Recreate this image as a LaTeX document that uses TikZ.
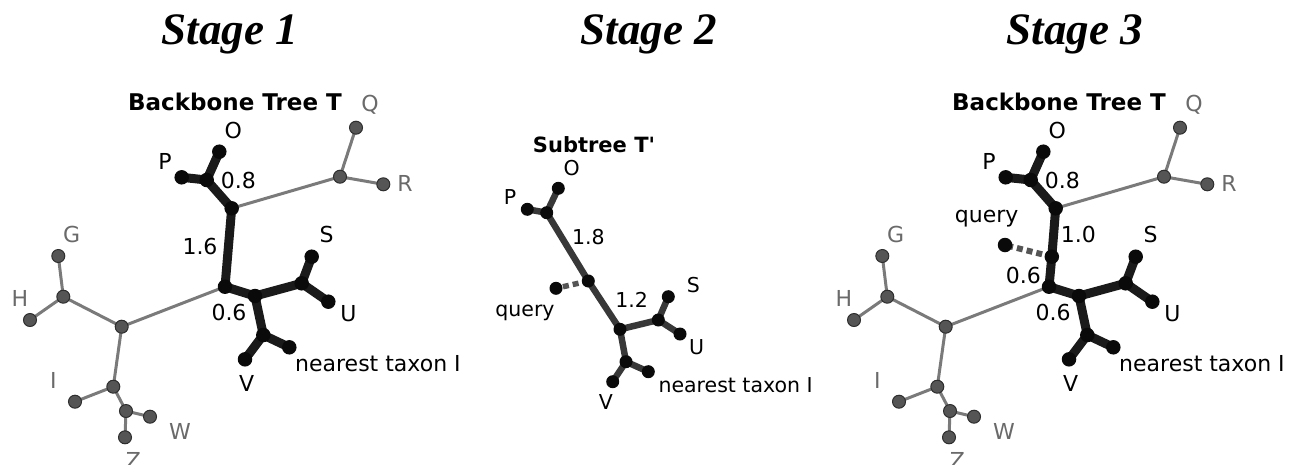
\documentclass[tikz,border=0pt]{standalone}
\usepackage{fontspec}
\setmainfont{Liberation Serif}
\newfontfamily\dejavu{DejaVu Sans}
\usetikzlibrary{backgrounds}

\definecolor{nodeblack}{HTML}{0A0A0A}
\definecolor{edgeblack}{HTML}{1A1A1A}
\definecolor{edgedark}{HTML}{383838}
\definecolor{edgegray}{HTML}{7A7A7A}
\definecolor{nodegray}{HTML}{555555}
\definecolor{nodegrayrim}{HTML}{2E2E2E}
\definecolor{labgray}{HTML}{6A6A6A}
\definecolor{querygray}{HTML}{555555}

\tikzset{
  tip/.style={circle, fill=nodeblack, inner sep=0pt, minimum size=14.5pt},
  subtip/.style={circle, fill=nodeblack, inner sep=0pt, minimum size=13pt},
  graytip/.style={circle, fill=nodegray, draw=nodegrayrim, line width=1pt, inner sep=0pt, minimum size=13pt},
  heavy/.style={draw=edgeblack, line width=9pt, line cap=round},
  medium/.style={draw=edgedark, line width=6.5pt, line cap=round},
  light/.style={draw=edgegray, line width=3pt},
  querylink/.style={draw=querygray, line width=6pt, dash pattern=on 6pt off 4pt},
  lab/.style={font=\dejavu\fontsize{22}{26}\selectfont, text=black, inner sep=0pt},
  glab/.style={lab, text=labgray},
  slab/.style={font=\dejavu\fontsize{20.5}{24}\selectfont, text=black, inner sep=0pt},
  treetitle/.style={font=\dejavu\bfseries\fontsize{23}{27}\selectfont, text=black, inner sep=0pt},
  stagetitle/.style={font=\bfseries\itshape\fontsize{45}{50}\selectfont, text=black, inner sep=0pt},
}

% backbone tree without the branch between A and B
\newcommand{\backbonetree}{%
  \node[treetitle] (title) at (235,102) {Backbone Tree T};
  % highlighted part
  \node[tip] (A)   at (231.7,208.3) {};
  \node[tip] (B)   at (225,286.7) {};
  \node[tip] (C)   at (255,296) {};
  \node[tip] (SUj) at (301.7,283.3) {};
  \node[tip] (S)   at (311.7,256.7) {};
  \node[tip] (U)   at (328.3,301.7) {};
  \node[tip] (Vj)  at (263.3,335) {};
  \node[tip] (V)   at (245,359.3) {};
  \node[tip] (N)   at (289.3,347.3) {};
  \node[tip] (POj) at (206.7,180) {};
  \node[tip] (O)   at (219.3,151.7) {};
  \node[tip] (P)   at (181.7,177.3) {};
  % remaining part
  \node[graytip] (Rj)  at (340,176.7) {};
  \node[graytip] (Q)   at (356,127.7) {};
  \node[graytip] (R)   at (383.3,184.3) {};
  \node[graytip] (D)   at (121.7,326.7) {};
  \node[graytip] (GHj) at (63.3,296.7) {};
  \node[graytip] (G)   at (58.3,256) {};
  \node[graytip] (H)   at (30,320) {};
  \node[graytip] (E)   at (113.3,386.7) {};
  \node[graytip] (I)   at (75,401.7) {};
  \node[graytip] (F)   at (126,411) {};
  \node[graytip] (W)   at (150,416.7) {};
  \node[graytip] (Z)   at (125,437.3) {};
  \begin{scope}[on background layer]
    \draw[light] (A.center) -- (Rj.center) -- (Q.center);
    \draw[light] (Rj.center) -- (R.center);
    \draw[light] (B.center) -- (D.center) -- (GHj.center) -- (G.center);
    \draw[light] (GHj.center) -- (H.center);
    \draw[light] (D.center) -- (E.center) -- (I.center);
    \draw[light] (E.center) -- (F.center) -- (W.center);
    \draw[light] (F.center) -- (Z.center);
    \draw[heavy] (P.center) -- (POj.center) -- (O.center);
    \draw[heavy] (POj.center) -- (A.center);
    \draw[heavy] (B.center) -- (C.center) -- (SUj.center) -- (S.center);
    \draw[heavy] (SUj.center) -- (U.center);
    \draw[heavy] (C.center) -- (Vj.center) -- (V.center);
    \draw[heavy] (Vj.center) -- (N.center);
  \end{scope}
  % leaf names and branch lengths
  \node[glab] (Qlab) at (370,105) {Q};
  \node[glab] (Rlab) at (405,183) {R};
  \node[lab] (Olab) at (233.3,130) {O};
  \node[lab] (Plab) at (165,161.7) {P};
  \node[lab] (l08) at (238.3,180) {0.8};
  \node[lab] (Slab) at (326.7,234) {S};
  \node[lab] (Ulab) at (348.3,313.3) {U};
  \node[lab] (l06) at (229,312) {0.6};
  \node[lab] (Vlab) at (246.7,383.3) {V};
  \node[lab, anchor=west] (Nlab) at (295,363.3) {nearest taxon I};
  \node[glab] (Glab) at (71.7,234) {G};
  \node[glab] (Hlab) at (20,298.3) {H};
  \node[glab] (Ilab) at (53.3,380) {I};
  \node[glab] (Wlab) at (180,431.7) {W};
  \node[glab] (Zlab) at (133.3,460) {Z};
}

\begin{document}
\begin{tikzpicture}[x=1pt,y=-1pt]
  \useasboundingbox (0,0) rectangle (1295,464);

  % stage headings
  \node[stagetitle] (st1) at (230,34) {Stage 1};
  \node[stagetitle] (st2) at (649,34) {Stage 2};
  \node[stagetitle] (st3) at (1075,34) {Stage 3};

  % Stage 1: backbone tree
  \begin{scope}[name prefix=a-]
    \backbonetree
    \begin{scope}[on background layer]
      \draw[heavy] (A.center) -- (B.center);
    \end{scope}
    \node[lab] (l16) at (200,246.7) {1.6};
  \end{scope}

  % Stage 2: subtree
  \begin{scope}[name prefix=b-]
    \node[treetitle, font=\dejavu\bfseries\fontsize{21}{25}\selectfont] (title) at (594,145) {Subtree T'};
    \node[subtip] (POj) at (546.7,212.7) {};
    \node[subtip] (O)   at (558.3,188.3) {};
    \node[subtip] (P)   at (527.3,209.3) {};
    \node[subtip] (M)   at (588.3,281) {};
    \node[subtip] (q)   at (556,288.3) {};
    \node[subtip] (C)   at (620,329.3) {};
    \node[subtip] (SUj) at (658.3,320) {};
    \node[subtip] (S)   at (668.3,296.7) {};
    \node[subtip] (U)   at (680,334) {};
    \node[subtip] (Vj)  at (626,361.7) {};
    \node[subtip] (V)   at (612.7,381.7) {};
    \node[subtip] (N)   at (648.3,371.7) {};
    \begin{scope}[on background layer]
      \draw[medium] (P.center) -- (POj.center) -- (O.center);
      \draw[medium] (POj.center) -- (M.center) -- (C.center) -- (SUj.center) -- (S.center);
      \draw[medium] (SUj.center) -- (U.center);
      \draw[medium] (C.center) -- (Vj.center) -- (V.center);
      \draw[medium] (Vj.center) -- (N.center);
      \draw[querylink, line width=5.5pt] (M.center) -- (q.center);
    \end{scope}
    \node[slab] (Olab) at (571.7,168.3) {O};
    \node[slab] (Plab) at (510,197.3) {P};
    \node[slab] (l18) at (588.3,237.3) {1.8};
    \node[slab] (qlab) at (525,312.7) {query};
    \node[slab] (l12) at (631.7,300) {1.2};
    \node[slab] (Slab) at (693.3,285) {S};
    \node[slab] (Ulab) at (696.7,346.7) {U};
    \node[slab] (Vlab) at (606,401.7) {V};
    \node[slab, anchor=west] (Nlab) at (658.3,385) {nearest taxon I};
  \end{scope}

  % Stage 3: backbone tree with the query inserted
  \begin{scope}[xshift=824pt, name prefix=c-]
    \backbonetree
    \node[tip] (Qj) at (227.8,256.7) {};
    \node[tip] (q)  at (181,245) {};
    \begin{scope}[on background layer]
      \draw[heavy] (A.center) -- (Qj.center) -- (B.center);
      \draw[querylink] (Qj.center) -- (q.center);
    \end{scope}
    \node[lab] (qlab) at (162.7,218.3) {query};
    \node[lab] (l10) at (254.3,234) {1.0};
    \node[lab] (l06b) at (199.3,275) {0.6};
  \end{scope}
\end{tikzpicture}
\end{document}
